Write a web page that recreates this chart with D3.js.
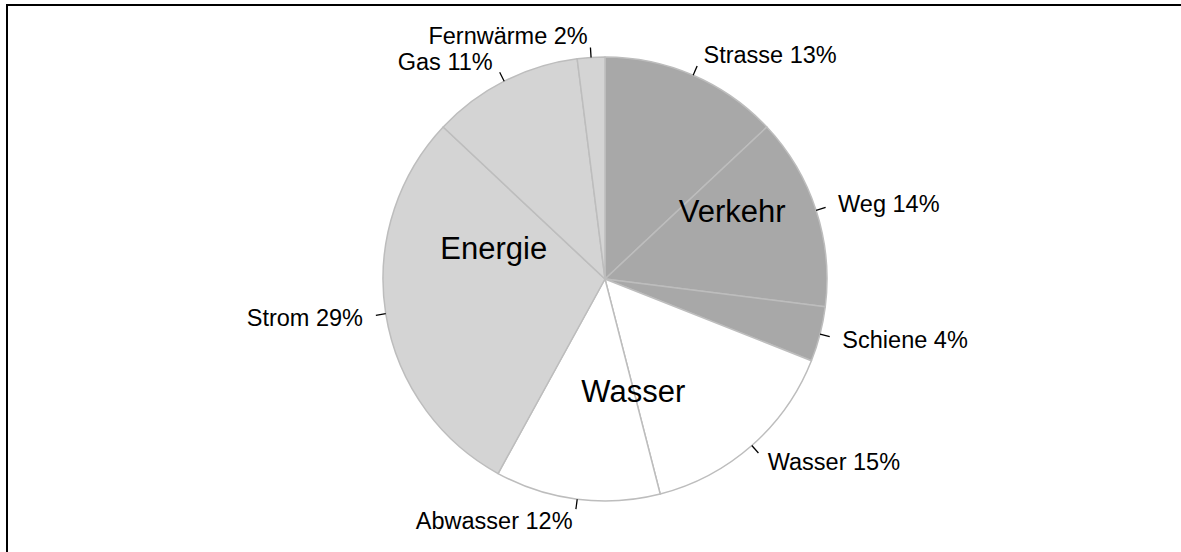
<!DOCTYPE html>
<meta charset="utf-8">
<script src="https://d3js.org/d3.v7.min.js"></script>
<style>
  body { margin: 0; background: white; }
  svg text { font-family: "Liberation Sans", Arial, sans-serif; fill: #000; }
</style>
<div id="chart"></div>
<script>
  // slices, clockwise from 12 o'clock
  var sectors = ["Strasse", "Weg", "Schiene", "Wasser", "Abwasser", "Strom", "Gas", "Fernwärme"];
  var shares  = [13, 14, 4, 15, 12, 29, 11, 2];
  var groupOf = ["Verkehr", "Verkehr", "Verkehr", "Wasser", "Wasser", "Energie", "Energie", "Energie"];

  var groups = ["Verkehr", "Wasser", "Energie"];
  var groupColors = ["#a8a8a8", "#ffffff", "#d4d4d4"];

  var width = 1181, height = 552;
  var cx = 605, cy = 279, R = 222;

  var svg = d3.select("#chart").append("svg")
      .attr("width", width)
      .attr("height", height);

  // frame (top and left edges only visible)
  svg.append("path")
    .attr("d", "M7,552 L7,5 L1181,5")
    .attr("fill", "none")
    .attr("stroke", "#000")
    .attr("stroke-width", 2);

  var color = d3.scaleOrdinal().domain(groups).range(groupColors);

  var data = sectors.map(function(s, i) {
    return {name: s, value: shares[i], group: groupOf[i]};
  });

  var pie = d3.pie().sort(null).value(function(d) { return d.value; });
  var arcs = pie(data);
  var arc = d3.arc().innerRadius(0).outerRadius(R);

  var g = svg.append("g").attr("transform", "translate(" + cx + "," + cy + ")");

  g.selectAll("path.slice")
    .data(arcs)
    .enter().append("path")
      .attr("class", "slice")
      .attr("d", arc)
      .attr("fill", function(d) { return color(d.data.group); })
      .attr("stroke", "#bdbdbd")
      .attr("stroke-width", 1.5)
      .attr("stroke-linejoin", "round");

  // leader ticks + slice labels
  var fs = 23.5;
  arcs.forEach(function(d) {
    var a = (d.startAngle + d.endAngle) / 2;
    var s = Math.sin(a), c = Math.cos(a);
    var x1 = R * s, y1 = -R * c;
    var x2 = (R + 10) * s, y2 = -(R + 10) * c;
    g.append("line")
      .attr("x1", x1).attr("y1", y1)
      .attr("x2", x2).attr("y2", y2)
      .attr("stroke", "#000")
      .attr("stroke-width", 1.3);
    var gap = 2 + 11 * Math.abs(s);
    var right = s >= 0;
    var midY = y2 - 12 * c;
    g.append("text")
      .attr("x", right ? x2 + gap : x2 - gap)
      .attr("y", midY + 0.358 * fs)
      .attr("text-anchor", right ? "start" : "end")
      .style("font-size", fs + "px")
      .text(d.data.name + " " + d.data.value + "%");
  });

  // group labels
  var groupTotals = groups.map(function(gr) {
    return d3.sum(data.filter(function(d) { return d.group === gr; }), function(d) { return d.value; });
  });
  var groupArcs = d3.pie().sort(null)(groupTotals);
  var nudge = {Verkehr: [0.65, 6], Wasser: [0.52, 5.6], Energie: [0.52, 1]};
  var gfs = 31;
  groupArcs.forEach(function(d, i) {
    var name = groups[i];
    var n = nudge[name];
    var a = (d.startAngle + d.endAngle) / 2 + n[1] * Math.PI / 180;
    var r = R * n[0];
    g.append("text")
      .attr("x", r * Math.sin(a))
      .attr("y", -r * Math.cos(a) + 0.358 * gfs)
      .attr("text-anchor", "middle")
      .style("font-size", gfs + "px")
      .text(name);
  });
</script>
